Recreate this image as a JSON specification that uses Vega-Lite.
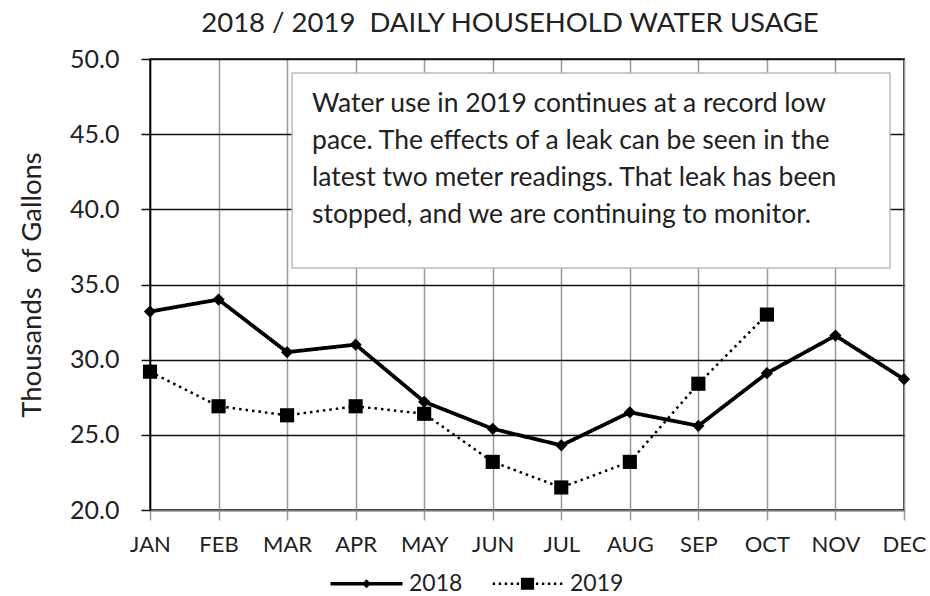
{
  "$schema": "https://vega.github.io/schema/vega-lite/v6.json",
  "width": 754,
  "height": 451,
  "autosize": {"type": "none"},
  "padding": {"left": 150, "top": 59, "right": 26, "bottom": 86},
  "background": "white",
  "config": {
    "font": "Lato",
    "view": {"stroke": "#000", "strokeWidth": 1.5}
  },
  "title": {
    "text": "2018 / 2019 \u00a0DAILY HOUSEHOLD WATER USAGE",
    "fontSize": 27.5,
    "fontWeight": "normal",
    "color": "#222",
    "font": "Lato",
    "anchor": "middle",
    "frame": "group",
    "dx": -17,
    "offset": 10
  },
  "data": {
    "values": [
      {"month": "JAN", "series": "2018", "value": 33.2},
      {"month": "FEB", "series": "2018", "value": 34.0},
      {"month": "MAR", "series": "2018", "value": 30.5},
      {"month": "APR", "series": "2018", "value": 31.0},
      {"month": "MAY", "series": "2018", "value": 27.2},
      {"month": "JUN", "series": "2018", "value": 25.4},
      {"month": "JUL", "series": "2018", "value": 24.3},
      {"month": "AUG", "series": "2018", "value": 26.5},
      {"month": "SEP", "series": "2018", "value": 25.6},
      {"month": "OCT", "series": "2018", "value": 29.1},
      {"month": "NOV", "series": "2018", "value": 31.6},
      {"month": "DEC", "series": "2018", "value": 28.7},
      {"month": "JAN", "series": "2019", "value": 29.2},
      {"month": "FEB", "series": "2019", "value": 26.9},
      {"month": "MAR", "series": "2019", "value": 26.3},
      {"month": "APR", "series": "2019", "value": 26.9},
      {"month": "MAY", "series": "2019", "value": 26.4},
      {"month": "JUN", "series": "2019", "value": 23.2},
      {"month": "JUL", "series": "2019", "value": 21.5},
      {"month": "AUG", "series": "2019", "value": 23.2},
      {"month": "SEP", "series": "2019", "value": 28.4},
      {"month": "OCT", "series": "2019", "value": 33.0}
    ]
  },
  "layer": [
    {
      "mark": {"type": "line", "color": "#000"},
      "encoding": {
        "x": {
          "field": "month",
          "type": "ordinal",
          "sort": ["JAN", "FEB", "MAR", "APR", "MAY", "JUN", "JUL", "AUG", "SEP", "OCT", "NOV", "DEC"],
          "scale": {"type": "point", "padding": 0},
          "axis": {
            "title": null,
            "labelAngle": 0,
            "labelFontSize": 22,
            "labelColor": "#222",
            "labelPadding": 14,
            "grid": true,
            "gridColor": "#999",
            "gridWidth": 1.5,
            "tickColor": "#999",
            "tickWidth": 1.5,
            "tickSize": 10,
            "domainColor": "#777",
            "domainWidth": 1.5
          }
        },
        "y": {
          "field": "value",
          "type": "quantitative",
          "scale": {"domain": [20, 50], "nice": false, "zero": false},
          "axis": {
            "title": "Thousands \u00a0of Gallons",
            "titleFontSize": 27.5,
            "titleFontWeight": "normal",
            "titleColor": "#222",
            "titlePadding": 23,
            "values": [20, 25, 30, 35, 40, 45, 50],
            "format": ".1f",
            "labelFontSize": 25,
            "labelColor": "#222",
            "labelPadding": 22,
            "grid": true,
            "gridColor": "#111",
            "gridWidth": 1.3,
            "tickColor": "#111",
            "tickWidth": 1.5,
            "tickSize": 9,
            "domainColor": "#000",
            "domainWidth": 1.5
          }
        },
        "detail": {"field": "series"},
        "strokeDash": {
          "field": "series",
          "type": "nominal",
          "scale": {"domain": ["2018", "2019"], "range": [[1, 0], [2.5, 4]]},
          "legend": null
        },
        "strokeWidth": {
          "field": "series",
          "type": "nominal",
          "scale": {"domain": ["2018", "2019"], "range": [3.8, 2.5]},
          "legend": null
        }
      }
    },
    {
      "mark": {"type": "point", "filled": true, "color": "#000", "opacity": 1},
      "encoding": {
        "x": {"field": "month", "type": "ordinal", "sort": ["JAN", "FEB", "MAR", "APR", "MAY", "JUN", "JUL", "AUG", "SEP", "OCT", "NOV", "DEC"]},
        "y": {"field": "value", "type": "quantitative"},
        "shape": {
          "field": "series",
          "type": "nominal",
          "scale": {"domain": ["2018", "2019"], "range": ["diamond", "square"]},
          "legend": null
        },
        "size": {
          "field": "series",
          "type": "nominal",
          "scale": {"domain": ["2018", "2019"], "range": [150, 200]},
          "legend": null
        }
      }
    },
    {
      "data": {"values": [{}]},
      "mark": {"type": "rect", "fill": "#fff", "stroke": "#bbb", "strokeWidth": 1.5, "xOffset": 5, "x2Offset": -14},
      "encoding": {
        "x": {"datum": "MAR", "type": "ordinal"},
        "x2": {"datum": "DEC"},
        "y": {"datum": 49.07, "type": "quantitative"},
        "y2": {"datum": 36.1}
      }
    },
    {
      "data": {"values": [{"note": ["Water use in 2019 continues at a record low", "pace. The effects of a leak can be seen in the", "latest two meter readings. That leak has been", "stopped, and we are continuing to monitor."]}]},
      "mark": {"type": "text", "align": "left", "baseline": "middle", "lineHeight": 37, "fontSize": 26.5, "color": "#222", "dx": 25},
      "encoding": {
        "x": {"datum": "MAR", "type": "ordinal"},
        "y": {"datum": 47.0, "type": "quantitative"},
        "text": {"field": "note"}
      }
    },
    {
      "mark": {"type": "point", "filled": true, "opacity": 0, "color": "#000"},
      "encoding": {
        "x": {"field": "month", "type": "ordinal", "sort": ["JAN", "FEB", "MAR", "APR", "MAY", "JUN", "JUL", "AUG", "SEP", "OCT", "NOV", "DEC"]},
        "y": {"field": "value", "type": "quantitative"},
        "shape": {
          "field": "series",
          "type": "nominal",
          "scale": {
            "domain": ["2018", "2019"],
            "range": [
              "M-6,-0.3H6V0.3H-6Z M0,-0.75L0.75,0L0,0.75L-0.75,0Z",
              "M-5.8,-0.2h0.4v0.4h-0.4Z M-4.8,-0.2h0.4v0.4h-0.4Z M-3.8,-0.2h0.4v0.4h-0.4Z M-2.8,-0.2h0.4v0.4h-0.4Z M-1.8,-0.2h0.4v0.4h-0.4Z M-1.1,-1H1.1V1H-1.1Z M1.4,-0.2h0.4v0.4h-0.4Z M2.4,-0.2h0.4v0.4h-0.4Z M3.4,-0.2h0.4v0.4h-0.4Z M4.4,-0.2h0.4v0.4h-0.4Z M5.4,-0.2h0.4v0.4h-0.4Z"
            ]
          },
          "legend": {
            "title": null,
            "orient": "none",
            "direction": "horizontal",
            "legendX": 205,
            "legendY": 513,
            "padding": 0,
            "symbolSize": 144,
            "symbolOpacity": 1,
            "symbolFillColor": "#000",
            "symbolStrokeColor": "#000",
            "symbolStrokeWidth": 0,
            "labelFontSize": 23,
            "labelColor": "#222",
            "labelOffset": 31,
            "labelLimit": 300,
            "columnPadding": 29
          }
        }
      }
    }
  ],
  "resolve": {"scale": {"shape": "independent", "size": "independent"}}
}
